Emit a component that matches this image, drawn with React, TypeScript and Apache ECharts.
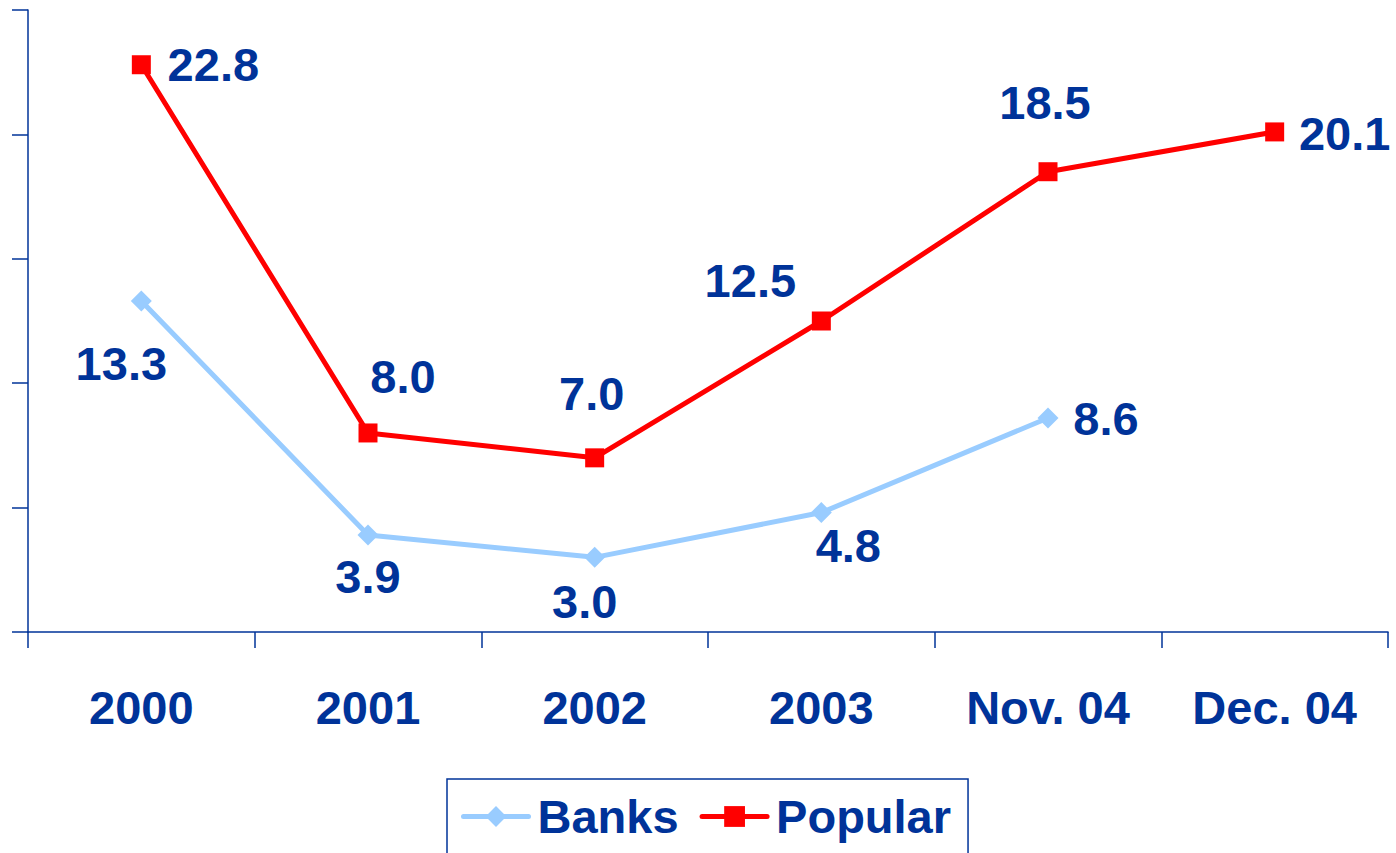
import React, { useEffect, useRef } from "react";
import * as echarts from "echarts";

const categories = ["2000", "2001", "2002", "2003", "Nov. 04", "Dec. 04"];
const banks: (number | null)[] = [13.3, 3.9, 3.0, 4.8, 8.6, null];
const popular: number[] = [22.8, 8.0, 7.0, 12.5, 18.5, 20.1];
const yTicks = { min: 0, max: 25, interval: 5 };

// label offsets (layout only)
const banksLabelOffset: [number, number][] = [[-20, 62], [0, 42], [-10, 44], [27, 33], [58, 0], [0, 0]];
const popularLabelOffset: [number, number][] = [[72, 0], [35, -56], [-3, -64], [-71, -41], [-3, -69], [70, 2]];

const NAVY = "#003399";
const FONT = "'Liberation Sans', Arial, sans-serif";

export default function App() {
  const ref = useRef<HTMLDivElement>(null);
  useEffect(() => {
    if (!ref.current) return;
    const chart = echarts.init(ref.current, undefined, { renderer: "svg" });
    const labelStyle = {
      show: true,
      position: "inside" as const,
      color: NAVY,
      fontFamily: FONT,
      fontWeight: "bold" as const,
      fontSize: 47,
      formatter: (p: any) => (p.value == null ? "" : Number(p.value).toFixed(1)),
    };
    chart.setOption({
      animation: false,
      backgroundColor: "#ffffff",
      grid: { left: 28, right: 8, top: 10, bottom: 221, containLabel: false },
      xAxis: {
        type: "category",
        data: categories,
        boundaryGap: true,
        axisLine: { show: true, lineStyle: { color: NAVY, width: 1.5 } },
        axisTick: { show: true, length: 16, alignWithLabel: false, lineStyle: { color: NAVY, width: 1.5 } },
        axisLabel: {
          color: NAVY,
          fontFamily: FONT,
          fontWeight: "bold",
          fontSize: 47,
          margin: 52,
          interval: 0,
        },
        splitLine: { show: false },
      },
      yAxis: {
        type: "value",
        min: yTicks.min,
        max: yTicks.max,
        interval: yTicks.interval,
        axisLine: { show: true, lineStyle: { color: NAVY, width: 1.5 } },
        axisTick: { show: true, length: 16, lineStyle: { color: NAVY, width: 1.5 } },
        axisLabel: { show: false },
        splitLine: { show: false },
      },
      legend: {
        left: 447,
        top: 779,
        orient: "horizontal",
        borderColor: NAVY,
        borderWidth: 1.5,
        padding: [14, 17, 40, 14],
        itemWidth: 65,
        itemHeight: 26,
        itemGap: 21,
        lineStyle: { width: 5, cap: "round" },
        textStyle: {
          color: NAVY,
          fontFamily: FONT,
          fontWeight: "bold",
          fontSize: 47,
          padding: [0, 0, 0, 4],
        },
        data: ["Banks", "Popular"],
      },
      series: [
        {
          name: "Banks",
          type: "line",
          data: banks.map((v, i) => ({
            value: v,
            label: { ...labelStyle, offset: banksLabelOffset[i] },
          })),
          symbol: "diamond",
          symbolSize: 21,
          showAllSymbol: true,
          connectNulls: false,
          itemStyle: { color: "#99ccff" },
          lineStyle: { color: "#99ccff", width: 5 },
          z: 2,
        },
        {
          name: "Popular",
          type: "line",
          data: popular.map((v, i) => ({
            value: v,
            label: { ...labelStyle, offset: popularLabelOffset[i] },
          })),
          symbol: "rect",
          symbolSize: 19,
          showAllSymbol: true,
          itemStyle: { color: "#ff0000" },
          lineStyle: { color: "#ff0000", width: 5 },
          z: 3,
        },
      ],
    });
    return () => chart.dispose();
  }, []);
  return (
    <div
      ref={ref}
      style={{ position: "fixed", left: 0, top: 0, width: 1396, height: 853, background: "#fff" }}
    />
  );
}
